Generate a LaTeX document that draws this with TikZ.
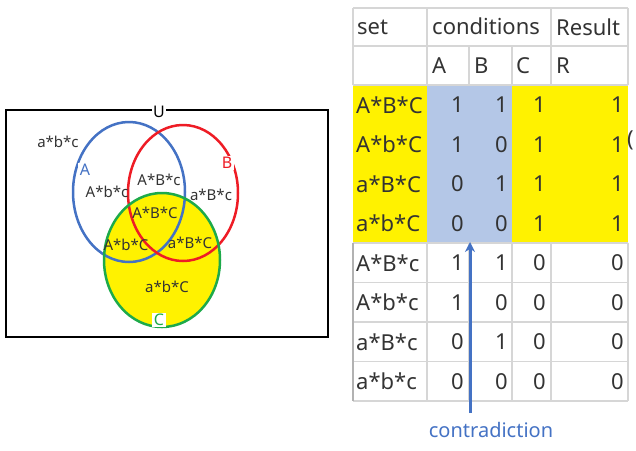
\documentclass[tikz,border=0pt]{standalone}
\usepackage{fontspec}
\setmainfont{Noto Sans}
\usetikzlibrary{arrows.meta}
\definecolor{ablue}{HTML}{4472C4}
\definecolor{bred}{HTML}{EE1C25}
\definecolor{cgreen}{HTML}{1DAA4A}
\definecolor{cellblue}{HTML}{B4C7E7}
\definecolor{txt}{HTML}{333333}
\definecolor{gridc}{HTML}{D6D6D6}
\tikzset{
  vlab/.style={font=\fontsize{15}{15}\selectfont, text=txt, inner sep=1pt},
  circlab/.style={font=\fontsize{16}{16}\selectfont, fill=white, inner sep=1.5pt},
  tcell/.style={font=\fontsize{22}{22}\selectfont, text=txt, inner sep=0pt},
  setcell/.style={tcell, anchor=west},
  valcell/.style={tcell, anchor=east},
  grid/.style={draw=gridc, line width=1.5pt},
  outline/.style={line width=2.5pt}
}
\begin{document}
\begin{tikzpicture}[x=1pt,y=-1pt]
\useasboundingbox (0,0) rectangle (636,450);
% ---------- Venn ----------
\draw[black, line width=2.2pt] (6,110) rectangle (328,337);
\fill[yellow] (162,260) ellipse [x radius=58, y radius=67];
\draw[outline, ablue] (129,192) ellipse [x radius=56, y radius=70];
\draw[outline, bred] (183,193) ellipse [x radius=55, y radius=68];
\draw[outline, cgreen] (162,260) ellipse [x radius=58, y radius=67];
\node[circlab, text=black] (U) at (159,112) {U};
\node[circlab, text=ablue] (A) at (85,170) {A};
\node[circlab, text=bred] (B) at (227,163) {B};
\node[circlab, text=cgreen] (C) at (159,320) {C};
\node[vlab] (nabc) at (58,142) {a*b*c};
\node[vlab] (Abc) at (107,192) {A*b*c};
\node[vlab] (ABc) at (159,180) {A*B*c};
\node[vlab] (aBc) at (211,195) {a*B*c};
\node[vlab] (ABC) at (155,213) {A*B*C};
\node[vlab] (AbC) at (126,245) {A*b*C};
\node[vlab] (aBC) at (190,243) {a*B*C};
\node[vlab] (abC) at (167,287) {a*b*C};
% ---------- Table ----------
\fill[yellow] (353,85) rectangle (427,243);
\fill[cellblue] (427,85) rectangle (512,243);
\fill[yellow] (512,85) rectangle (628,243);
\draw[grid] (353,8) -- (628,8);
\draw[grid] (353,46) -- (628,46);
\draw[grid] (353,85) -- (628,85);
\foreach \x in {353,427,551,628} \draw[grid] (\x,8) -- (\x,46);
\foreach \x in {353,427,469,512,551,628} \draw[grid] (\x,46) -- (\x,85);
\foreach \y in {243,282.5,322,361.5,401} \draw[grid] (353,\y) -- (628,\y);
\foreach \x in {427,469,512,551,628} \draw[grid] (\x,243) -- (\x,401);
\draw[draw=gray!60, line width=1.5pt] (353,243) -- (353,401);
\node[setcell] (hset) at (357,27) {set};
\node[setcell] (hcond) at (432,26) {conditions};
\node[setcell] (hres) at (556,27) {Result};
\node[setcell] (hA) at (432,66) {A};
\node[setcell] (hB) at (474,66) {B};
\node[setcell] (hC) at (516,66) {C};
\node[setcell] (hR) at (556,66) {R};
\foreach \r/\s/\a/\b/\c [count=\i from 0] in {
  A*B*C/1/1/1/1, A*b*C/1/0/1/1, a*B*C/0/1/1/1, a*b*C/0/0/1/1,
  A*B*c/1/1/0/0, A*b*c/1/0/0/0, a*B*c/0/1/0/0, a*b*c/0/0/0/0}{
  \pgfmathsetmacro{\yy}{104.75+39.5*\i}
  \node[setcell] (s\i) at (356,\yy) {\r};
  \node[valcell] (a\i) at (464,\yy) {\s};
  \node[valcell] (b\i) at (508,\yy) {\a};
  \node[valcell] (c\i) at (546,\yy) {\b};
  \node[valcell] (r\i) at (624,\yy) {\c};
}
\node[tcell, anchor=west] (paren) at (627,140) {(};
% ---------- contradiction ----------
\node[font=\fontsize{20}{20}\selectfont, text=ablue, inner sep=0pt] (contra) at (491,430) {contradiction};
\coordinate (atail) at (470,413);
\coordinate (ahead) at (470,242);
\draw[ablue, line width=3pt, -{Stealth[length=10pt,width=10pt]}] (atail) -- (ahead);
\end{tikzpicture}
\end{document}
